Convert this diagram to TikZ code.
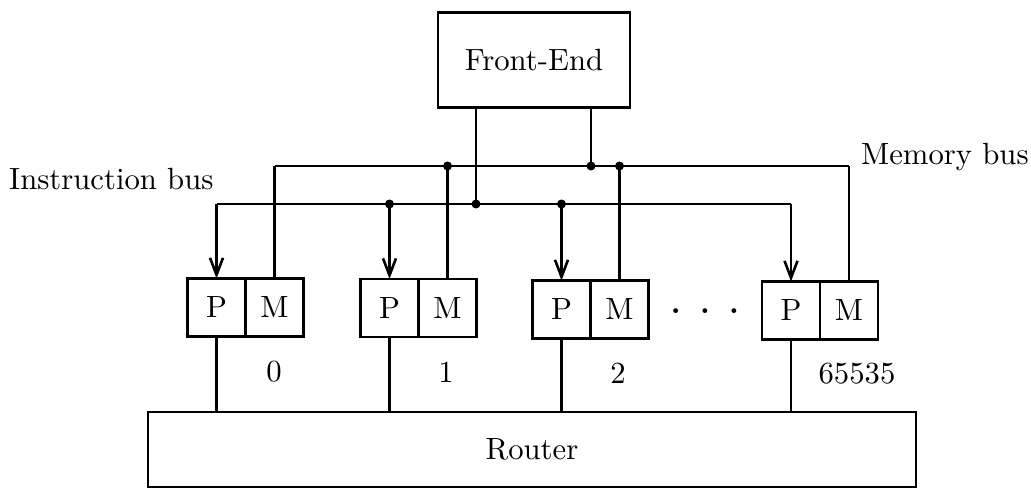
\documentclass[tikz,border=0pt]{standalone}
\usepackage{graphicx}
\usetikzlibrary{arrows.meta}
\newcommand{\sx}[1]{\scalebox{3.07}{#1}}
\begin{document}
\begin{tikzpicture}[x=1pt,y=-1pt,
  every node/.style={font=\fontsize{10}{12}\selectfont},
  ln/.style={line width=2.8pt},
  half/.style={draw,ln,minimum width=58pt,minimum height=58pt,inner sep=0pt,outer sep=0pt},
  bigbox/.style={draw,ln,inner sep=0pt,outer sep=0pt},
  arr/.style={ln,-{Straight Barb[length=17pt,width=13pt,line width=2.6pt]}},
  dot/.style={fill=black}]
\useasboundingbox (0,0) rectangle (1031,489);

\node[bigbox,minimum width=192pt,minimum height=95pt] (FE) at (534,60) {\sx{Front-End}};
\node[bigbox,minimum width=768pt,minimum height=75pt] (R) at (532,449.5) {\sx{Router}};

\node[half] (P0) at (216.5,307.5) {\sx{P}};
\node[half,anchor=west] (M0) at (P0.east) {\sx{M}};
\node[half] (P1) at (389.5,308) {\sx{P}};
\node[half,anchor=west] (M1) at (P1.east) {\sx{M}};
\node[half] (P2) at (561.5,309.5) {\sx{P}};
\node[half,anchor=west] (M2) at (P2.east) {\sx{M}};
\node[half] (P3) at (791,310.5) {\sx{P}};
\node[half,anchor=west] (M3) at (P3.east) {\sx{M}};

\node[anchor=base] (n0) at (274,381) {\sx{0}};
\node[anchor=base] (n1) at (446,382) {\sx{1}};
\node[anchor=base] (n2) at (618,383) {\sx{2}};
\node[anchor=base] (n3) at (857,383) {\sx{65535}};
\node[anchor=base] (dots) at (705,313) {\sx{\textbf{.}\hspace{6.3pt}\textbf{.}\hspace{6.3pt}\textbf{.}}};

\node[anchor=base west,inner sep=0pt] (ibl) at (9,190) {\sx{Instruction bus}};
\node[anchor=base west,inner sep=0pt] (mbl) at (861,165) {\sx{Memory bus}};

\coordinate (ibus) at (0,204);
\coordinate (mbus) at (0,166);
\coordinate (feI) at (476,0);
\coordinate (feM) at (591,0);

% instruction bus
\draw[ln] (P0.north |- ibus) -- (P3.north |- ibus);
\foreach \p in {P0,P1,P2,P3} \draw[arr] (\p.north |- ibus) -- (\p.north);
\draw[ln] (FE.south -| feI) -- (feI |- ibus);
% memory bus
\draw[ln] (M0.north |- mbus) -- (M3.north |- mbus);
\foreach \m in {M0,M1,M2,M3} \draw[ln] (\m.north |- mbus) -- (\m.north);
\draw[ln] (FE.south -| feM) -- (feM |- mbus);
% junction dots
\fill[dot] (P1.north |- ibus) circle (4.5pt);
\fill[dot] (P2.north |- ibus) circle (4.5pt);
\fill[dot] (feI |- ibus) circle (4.5pt);
\fill[dot] (M1.north |- mbus) circle (4.5pt);
\fill[dot] (M2.north |- mbus) circle (4.5pt);
\fill[dot] (feM |- mbus) circle (4.5pt);
% to router
\foreach \p in {P0,P1,P2,P3} \draw[ln] (\p.south) -- (\p.south |- R.north);
\end{tikzpicture}
\end{document}
